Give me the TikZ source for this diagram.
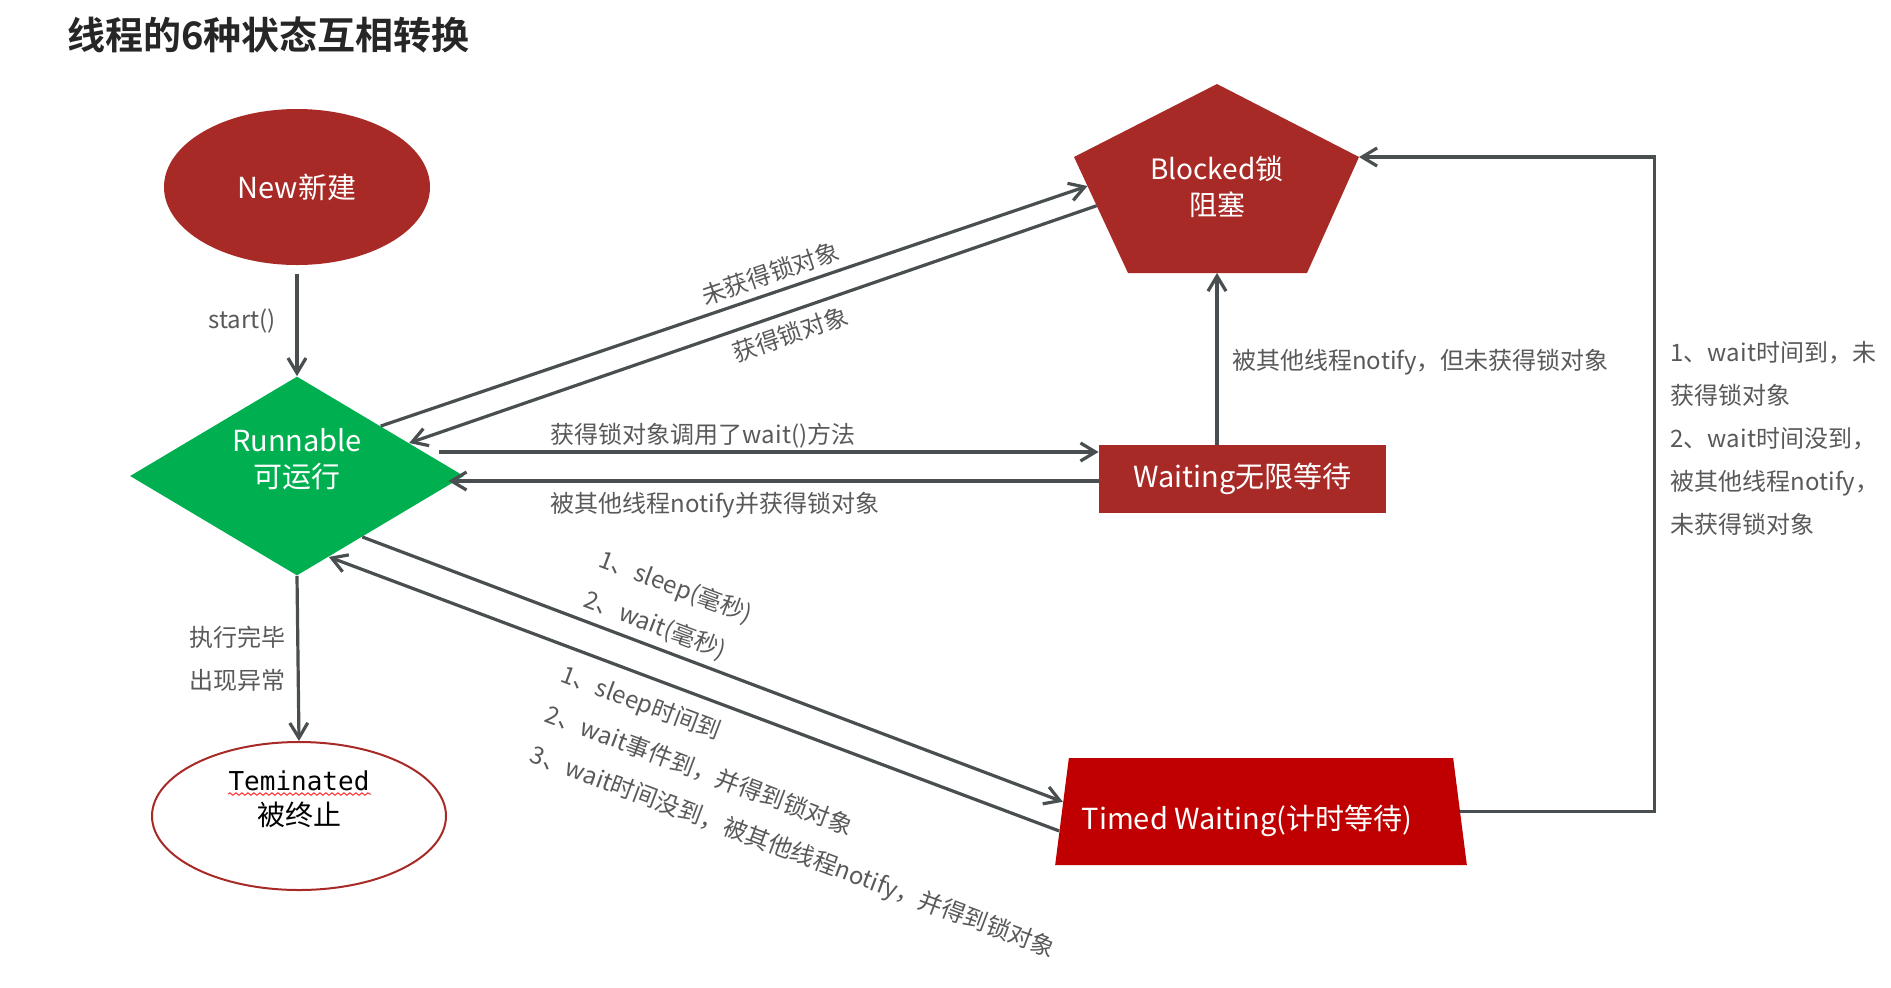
\documentclass[tikz,border=0pt]{standalone}
\usepackage{fontspec}
\setmainfont{Noto Sans CJK SC}[BoldFont={Noto Sans CJK SC Bold}]
\newfontfamily\termfont{DejaVu Sans Mono}
\definecolor{tsred}{RGB}{168,42,39}
\definecolor{tsbright}{RGB}{192,0,0}
\definecolor{tsgreen}{RGB}{0,176,80}
\definecolor{tsline}{RGB}{73,79,80}
\definecolor{tstext}{RGB}{89,89,89}
\definecolor{tstitle}{RGB}{38,38,38}
\usetikzlibrary{arrows.meta,positioning,shapes.geometric,calc,decorations.pathmorphing}

\tikzset{
  flow/.style={draw=tsline,line width=1.6pt},
  statetext/.style={text=white,font=\fontsize{14.5}{18}\selectfont,align=center,inner sep=0pt},
  note/.style={text=tstext,font=\fontsize{12}{21.5}\selectfont,align=left}
}

\begin{document}
\begin{tikzpicture}[x=0.5pt,y=-0.5pt,>={Straight Barb[length=7.5pt,width=9pt]}]
  \useasboundingbox (0,0) rectangle (1891,987);

  % title
  \node[anchor=west,text=tstitle,font=\fontsize{19}{22}\selectfont\bfseries] (title) at (60,35) {线程的6种状态互相转换};

  % states
  \node[ellipse,statetext,fill=tsred,minimum width=133pt,minimum height=78pt] (new) at (297,187) {New新建};
  \node[diamond,shape aspect=1.67,statetext,fill=tsgreen,minimum width=167pt,minimum height=99.5pt,text depth=18pt] (runnable) at (297,476) {Runnable\\可运行};
  \node[ellipse,draw=tsred,line width=1pt,minimum width=147pt,minimum height=74pt,inner sep=0pt,align=center,
        font=\fontsize{14}{17.5}\selectfont,text depth=18pt] (term) at (299,816) {{\termfont\fontsize{13}{17.5}\selectfont Teminated}\\被终止};
  \draw[red!80,line width=0.5pt,decorate,decoration={snake,amplitude=0.6pt,segment length=3pt}] (228,794) -- (371,794);

  % blocked pentagon
  \coordinate (blk-t) at (1217,84);
  \coordinate (blk-l) at (1074,157);
  \coordinate (blk-r) at (1359,157);
  \coordinate (blk-bl) at (1128,273);
  \coordinate (blk-br) at (1307,273);
  \coordinate (blk-b) at (1217,273);
  \fill[tsred] (blk-t) -- (blk-r) -- (blk-br) -- (blk-bl) -- (blk-l) -- cycle;
  \node[statetext,font=\fontsize{14}{18}\selectfont] (blocked) at (1217,187) {Blocked锁\\阻塞};
  \coordinate (blk-a) at ($(blk-l)!0.25!(blk-bl)$);
  \coordinate (blk-c) at ($(blk-l)!0.42!(blk-bl)$);

  \node[rectangle,statetext,fill=tsred,minimum width=143.5pt,minimum height=34pt] (waiting) at (1242.5,479) {Waiting无限等待};
  \node[trapezium,trapezium stretches=true,trapezium left angle=76,trapezium right angle=76,statetext,fill=tsbright,
        minimum width=206pt,minimum height=53.5pt,text height=22pt] (timed) at (1261,811.5) {Timed Waiting(计时等待)\hspace{14pt}};

  % transitions
  \draw[flow,->,shorten <=4.5pt] (new.south) -- (runnable.north) node[midway,left=6.5pt,note] {start()};
  \draw[flow,->] (runnable.south) -- (term.north) node[midway,left=2pt,note,align=center] {执行完毕\\出现异常};

  \draw[flow,->] (runnable.north east) -- (blk-a) node[pos=0.56,above,sloped,note] {未获得锁对象};
  \draw[flow,<-] ($(runnable.north)!0.67!(runnable.east)$) -- (blk-c) node[pos=0.544,below=1pt,sloped,note] {获得锁对象};

  \draw[flow,->] ($(runnable.east)+(-25,-24)$) -- ($(waiting.west)+(0,-27)$) node[pos=0.4,above,inner sep=1pt,note] {获得锁对象调用了wait()方法};
  \draw[flow,<-] ($(runnable.east)+(-16,5)$) -- ($(waiting.west)+(0,2)$) node[pos=0.41,below=1.5pt,note] {被其他线程notify并获得锁对象};

  \draw[flow,->] (waiting.north -| blk-b) -- (blk-b) node[pos=0.48,right=3.5pt,note] {被其他线程notify，但未获得锁对象};
  \draw[flow,->] (timed.east) -- ++(194,0) |- node[pos=0.285,right=4pt,note] {1、wait时间到，未\\获得锁对象\\2、wait时间没到，\\被其他线程notify，\\未获得锁对象} (blk-r);

  \draw[flow,->] ($(runnable.east)!0.61!(runnable.south)$) -- ($(timed.top left corner)!0.41!(timed.bottom left corner)$)
        node[pos=0.415,above,sloped,note] {1、sleep(毫秒)\\2、wait(毫秒)};
  \draw[flow,<-] ($(runnable.east)!0.81!(runnable.south)$) -- ($(timed.top left corner)!0.68!(timed.bottom left corner)$)
        node[pos=0.69,below=3.5pt,sloped,note] {1、sleep时间到\\2、wait事件到，并得到锁对象\\3、wait时间没到，被其他线程notify，并得到锁对象};
\end{tikzpicture}
\end{document}
